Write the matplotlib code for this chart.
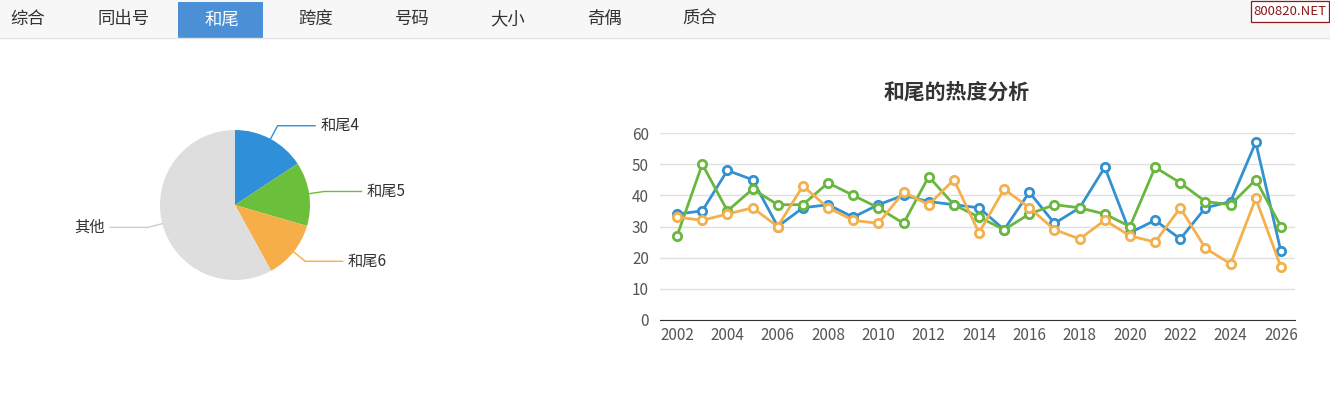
#!/usr/bin/env python3
# -*- coding: utf-8 -*-

import numpy as np
import matplotlib
matplotlib.use("Agg")
import matplotlib.pyplot as plt
from matplotlib.patches import Rectangle

plt.rcParams['font.family'] = ['Noto Sans CJK SC', 'DejaVu Sans']

# ---- data ----
tabs = ["综合", "同出号", "和尾", "跨度", "号码", "大小", "奇偶", "质合"]
active_tab = "和尾"

pie_labels = ["和尾4", "和尾5", "和尾6", "其他"]
pie_values = [15.7, 13.8, 12.5, 58.0]

years = list(range(2002, 2027))
tail4 = [34, 35, 48, 45, 30, 36, 37, 33, 37, 40, 38, 37, 36, 29, 41, 31, 36, 49, 28, 32, 26, 36, 38, 57, 22]
tail5 = [27, 50, 35, 42, 37, 37, 44, 40, 36, 31, 46, 37, 33, 29, 34, 37, 36, 34, 30, 49, 44, 38, 37, 45, 30]
tail6 = [33, 32, 34, 36, 30, 43, 36, 32, 31, 41, 37, 45, 28, 42, 36, 29, 26, 32, 27, 25, 36, 23, 18, 39, 17]

pie_colors = ["#2f8fd8", "#6cbf3a", "#f5ae48", "#dedede"]
line_colors = ["#3391cf", "#6ab73f", "#f4b04c"]

W, H = 1330, 416
fig = plt.figure(figsize=(W / 100, H / 100), dpi=100)
fig.patch.set_facecolor("white")


def fx(px):
    return px / W


def fy(py):
    return 1 - py / H


# ---- tab bar ----
fig.patches.append(Rectangle((0, fy(37)), 1, 37 / H, transform=fig.transFigure,
                             facecolor="#f7f7f7", edgecolor="none", zorder=0))
fig.lines.append(plt.Line2D([0, 1], [fy(37.5), fy(37.5)], transform=fig.transFigure,
                            color="#e2e2e2", lw=1))
for i, t in enumerate(tabs):
    cx = 28 + i * 96
    if t == active_tab:
        fig.patches.append(Rectangle((fx(178), fy(38)), 85 / W, 36 / H,
                                     transform=fig.transFigure,
                                     facecolor="#4b8fd6", edgecolor="none", zorder=1))
        fig.text(fx(cx + 2), fy(20), t, color="white", fontsize=12.5,
                 ha="center", va="center", zorder=2)
    else:
        fig.text(fx(cx), fy(19), t, color="#333333", fontsize=12.5,
                 ha="center", va="center", zorder=2)

# watermark box
fig.patches.append(Rectangle((fx(1251), fy(22)), 78 / W, 21 / H, transform=fig.transFigure,
                             facecolor="white", edgecolor="#8b1a1a", lw=0.9, zorder=3))
fig.text(fx(1290), fy(11.5), "800820.NET", color="#8b1a1a", fontsize=9.5,
         ha="center", va="center", zorder=4)

# ---- pie ----
cx, cy, r = 235, 205, 75
axp = fig.add_axes([fx(cx - r), fy(cy + r), 2 * r / W, 2 * r / H])
wedges, _ = axp.pie(pie_values, colors=pie_colors, startangle=90, counterclock=False,
                    radius=1, wedgeprops=dict(linewidth=0))
axp.set_xlim(-1, 1)
axp.set_ylim(-1, 1)
axp.set_aspect("auto")
axp.axis("off")

for w, lab, col in zip(wedges, pie_labels, pie_colors):
    ang = np.deg2rad((w.theta1 + w.theta2) / 2)
    x0, y0 = np.cos(ang), np.sin(ang)
    x1, y1 = 1.2 * x0, 1.2 * y0
    side = 1 if x0 >= 0 else -1
    x2 = x1 + side * 0.5
    lc = col if lab != "其他" else "#cccccc"
    axp.plot([x0, x1, x2], [y0, y1, y1], color=lc, lw=1, clip_on=False)
    axp.text(x2 + side * 0.07, y1, lab, ha="left" if side > 0 else "right",
             va="center", fontsize=11, color="#333333", clip_on=False)

# ---- line chart ----
ax = fig.add_axes([fx(660), fy(320), 635 / W, 187 / H])
for vals, col in zip([tail4, tail5, tail6], line_colors):
    ax.plot(years, vals, color=col, lw=2, marker="o", markersize=6,
            markerfacecolor="white", markeredgecolor=col, markeredgewidth=2, zorder=3)

ax.set_xlim(2001.32, 2026.56)
ax.set_ylim(0, 60)
ax.set_xticks(range(2002, 2027, 2))
ax.set_yticks(range(0, 61, 10))
ax.grid(axis="y", color="#e0e0e0", lw=1)
ax.set_axisbelow(True)
for s in ["top", "right", "left"]:
    ax.spines[s].set_visible(False)
ax.spines["bottom"].set_color("#333333")
ax.tick_params(axis="both", length=0, labelsize=11, colors="#555555")
ax.tick_params(axis="x", pad=5)
ax.tick_params(axis="y", pad=8)
fig.text(fx(957), fy(92), "和尾的热度分析", fontsize=15, fontweight="bold",
         color="#333333", ha="center", va="center")

fig.savefig("out.png", dpi=100)
